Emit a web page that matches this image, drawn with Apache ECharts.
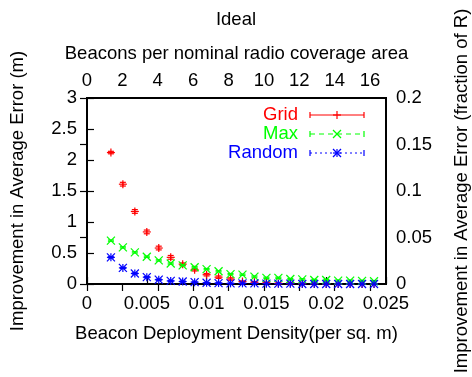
<!DOCTYPE html>
<html>
<head>
<meta charset="utf-8">
<script src="https://cdn.jsdelivr.net/npm/echarts@6/dist/echarts.min.js"></script>
<style>
    html, body { margin: 0; padding: 0; background: #fff; }
    #chart { width: 472px; height: 377px; }
</style>
</head>
<body>
<div id="chart"></div>
<script>
    // beacon deployment density (per sq. m)
    var density = [0.002, 0.003, 0.004, 0.005, 0.006, 0.007, 0.008, 0.009, 0.010, 0.011, 0.012, 0.013,
                   0.014, 0.015, 0.016, 0.017, 0.018, 0.019, 0.020, 0.021, 0.022, 0.023, 0.024];
    var gridVals = [2.12, 1.61, 1.17, 0.84, 0.58, 0.43, 0.32, 0.23, 0.15, 0.11, 0.08, 0.04,
                    0.03, 0.02, 0.01, 0.01, 0.005, 0.005, 0, 0, 0, 0, 0];
    var maxVals = [0.70, 0.59, 0.51, 0.44, 0.38, 0.33, 0.30, 0.27, 0.24, 0.205, 0.16, 0.15,
                   0.12, 0.10, 0.10, 0.08, 0.075, 0.065, 0.065, 0.055, 0.055, 0.05, 0.045];
    var randomVals = [0.43, 0.26, 0.17, 0.11, 0.07, 0.05, 0.04, 0.03, 0.02, 0.015, 0.01, 0.01,
                      0.01, 0.005, 0.005, 0.005, 0, 0, 0, 0, 0, 0, 0];
    // error bar half-heights
    var gridErr = [0.02, 0.03, 0.03, 0.03, 0.03, 0.03, 0.02, 0.02, 0.02, 0.02, 0.02, 0.01,
                   0.01, 0.01, 0.01, 0.01, 0, 0, 0, 0, 0, 0, 0];
    var maxErr = [0.01, 0.01, 0.01, 0.01, 0.01, 0.01, 0.01, 0.01, 0.01, 0.01, 0.01, 0.01,
                  0.01, 0.01, 0.01, 0.01, 0.01, 0.01, 0.01, 0.01, 0.01, 0.01, 0.01];
    var randomErr = [0.01, 0.01, 0.01, 0.01, 0.01, 0.01, 0.01, 0.005, 0.005, 0.005, 0.005, 0.005,
                     0, 0, 0, 0, 0, 0, 0, 0, 0, 0, 0];

    var seriesNames = ['Grid', 'Max', 'Random'];
    var seriesColors = ['#ff0000', '#00ff00', '#0000ff'];
    var seriesShapes = ['plus', 'cross', 'star'];

    var bottomTicks = [0, 0.005, 0.01, 0.015, 0.02, 0.025];
    var leftTicks = [0, 0.5, 1, 1.5, 2, 2.5, 3];
    var rightTicks = [0, 0.05, 0.1, 0.15, 0.2];
    var topTicks = [0, 2, 4, 6, 8, 10, 12, 14, 16];
    var topMax = 16.9; // beacons per coverage area at density 0.025

    var FONT = 'Liberation Sans, Arial, sans-serif';
    var FS = 18.5;

    function seg(x1, y1, x2, y2, color) {
        return {
            type: 'line',
            shape: { x1: x1, y1: y1, x2: x2, y2: y2 },
            style: { stroke: color, lineWidth: 1.2 }
        };
    }

    function markerLines(shape, cx, cy, color) {
        var r = 4, out = [];
        if (shape === 'plus' || shape === 'star') {
            out.push(seg(cx - r, cy, cx + r, cy, color));
            out.push(seg(cx, cy - r, cx, cy + r, color));
        }
        if (shape === 'cross' || shape === 'star') {
            out.push(seg(cx - r, cy - r, cx + r, cy + r, color));
            out.push(seg(cx - r, cy + r, cx + r, cy - r, color));
        }
        return out;
    }

    function makeRender(shape, color) {
        return function (params, api) {
            var x = api.value(0), y = api.value(1), e = api.value(2);
            var p = api.coord([x, y]);
            var children = [];
            if (e > 0) {
                var hi = api.coord([x, y + e])[1];
                var lo = api.coord([x, y - e])[1];
                children.push(seg(p[0], hi, p[0], lo, color));
                children.push(seg(p[0] - 3, hi, p[0] + 3, hi, color));
                children.push(seg(p[0] - 3, lo, p[0] + 3, lo, color));
            }
            children = children.concat(markerLines(shape, p[0], p[1], color));
            return { type: 'group', children: children };
        };
    }

    function pack(vals, errs) {
        return density.map(function (d, i) { return [d, vals[i], errs[i]]; });
    }

    var allVals = [gridVals, maxVals, randomVals];
    var allErrs = [gridErr, maxErr, randomErr];

    var series = seriesNames.map(function (name, i) {
        return {
            name: name,
            type: 'custom',
            xAxisIndex: 0,
            yAxisIndex: 0,
            clip: false,
            renderItem: makeRender(seriesShapes[i], seriesColors[i]),
            data: pack(allVals[i], allErrs[i])
        };
    });

    // gnuplot style key: text right-aligned, sample line with end caps and a marker
    var graphics = [];
    var dashes = [null, [5, 4], [2, 3]];
    seriesNames.forEach(function (name, i) {
        var y = 115 + i * 19, x1 = 310, x2 = 364, c = seriesColors[i];
        graphics.push({
            type: 'text', x: 298, y: y,
            style: { text: name, fill: c, font: FS + 'px ' + FONT, textAlign: 'right', textVerticalAlign: 'middle' }
        });
        graphics.push({
            type: 'line', shape: { x1: x1, y1: y, x2: x2, y2: y },
            style: { stroke: c, lineWidth: 1, lineDash: dashes[i] }
        });
        graphics.push(seg(x1, y - 3, x1, y + 3, c));
        graphics.push(seg(x2, y - 3, x2, y + 3, c));
        markerLines(seriesShapes[i], (x1 + x2) / 2, y, c).forEach(function (g) { graphics.push(g); });
    });
    // right axis title, kept outside the axis so it does not squeeze the grid
    graphics.push({
        type: 'text', x: 462, y: 191, rotation: Math.PI / 2,
        style: {
            text: 'Improvement in Average Error (fraction of R)', fill: '#000',
            font: FS + 'px ' + FONT, textAlign: 'center', textVerticalAlign: 'middle'
        }
    });

    function fmt(v) { return String(+v.toFixed(4)); }

    var labelStyle = { color: '#000', fontSize: FS, fontFamily: FONT };
    var nameStyle = { color: '#000', fontSize: FS, fontFamily: FONT };
    var tickStyle = { show: true, inside: true, length: 7, lineStyle: { color: '#000', width: 1.2 } };

    var chart = echarts.init(document.getElementById('chart'), null, { renderer: 'canvas' });
    chart.setOption({
        animation: false,
        backgroundColor: '#fff',
        title: {
            text: 'Ideal',
            left: 'center',
            top: 5,
            textStyle: { fontSize: FS, fontWeight: 'normal', color: '#000', fontFamily: FONT }
        },
        grid: {
            left: 86, right: 86, top: 98, bottom: 93,
            show: true, borderColor: '#000', borderWidth: 2, backgroundColor: 'transparent'
        },
        xAxis: [
            {
                type: 'value', position: 'bottom',
                min: bottomTicks[0], max: bottomTicks[bottomTicks.length - 1], interval: 0.005,
                name: 'Beacon Deployment Density(per sq. m)',
                nameLocation: 'middle', nameGap: 40, nameTextStyle: nameStyle,
                axisLine: { show: false }, axisTick: tickStyle, splitLine: { show: false },
                axisLabel: Object.assign({ margin: 10, formatter: fmt }, labelStyle)
            },
            {
                type: 'value', position: 'top',
                min: topTicks[0], max: topMax, interval: 2,
                name: 'Beacons per nominal radio coverage area',
                nameLocation: 'middle', nameGap: 35, nameTextStyle: nameStyle,
                axisLine: { show: false }, axisTick: tickStyle, splitLine: { show: false },
                axisLabel: Object.assign({ margin: 8, showMaxLabel: false, formatter: fmt }, labelStyle)
            }
        ],
        yAxis: [
            {
                type: 'value', position: 'left',
                min: leftTicks[0], max: leftTicks[leftTicks.length - 1], interval: 0.5,
                name: 'Improvement in Average Error (m)',
                nameLocation: 'middle', nameGap: 60, nameTextStyle: nameStyle,
                axisLine: { show: false }, axisTick: tickStyle, splitLine: { show: false },
                axisLabel: Object.assign({ margin: 10, formatter: fmt }, labelStyle)
            },
            {
                type: 'value', position: 'right',
                min: rightTicks[0], max: rightTicks[rightTicks.length - 1], interval: 0.05,
                axisLine: { show: false }, axisTick: tickStyle, splitLine: { show: false },
                axisLabel: Object.assign({ margin: 10, formatter: fmt }, labelStyle)
            }
        ],
        graphic: graphics,
        series: series
    });
</script>
</body>
</html>
